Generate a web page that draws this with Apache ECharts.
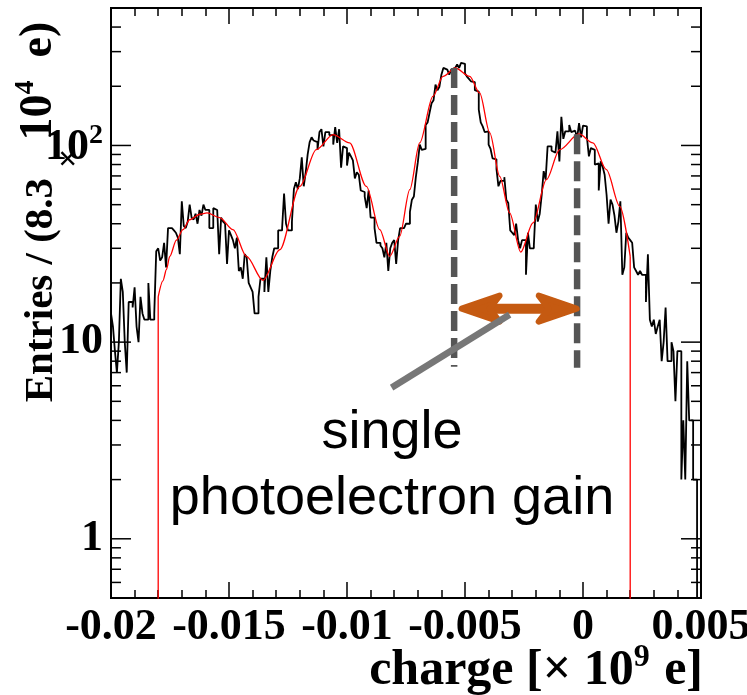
<!DOCTYPE html>
<html>
<head>
<meta charset="utf-8">
<script src="https://cdn.jsdelivr.net/npm/echarts@6/dist/echarts.min.js"></script>
<style>
  html, body { margin: 0; padding: 0; background: #ffffff; }
  #chart { width: 747px; height: 695px; }
</style>
</head>
<body>
<div id="chart"></div>
<script>
// ---- histogram: charge spectrum, 300 bins from -0.02 to 0.005 (x 10^9 e) ----
const xMin = -0.02;
const xMax = 0.005;
const binCount = 300;
const counts = [
  14, 12, 9, 7, 10, 21, 18, 10, 7, 16,
  16, 15, 19, 12, 10, 17, 14, 13, 13, 20,
  13, 13, 14, 29, 30, 26, 27, 32, 24, 38,
  38, 38, 37, 36, 34, 28, 52, 39, 38, 41,
  50, 43, 42, 45, 40, 47, 44, 50, 47, 47,
  38, 38, 48, 47, 46, 28, 43, 41, 40, 25,
  37, 35, 33, 30, 34, 23, 24, 21, 28, 27,
  20, 19, 18, 14, 14, 17, 21, 21, 18, 27,
  18, 23, 27, 30, 30, 37, 37, 38, 57, 40,
  37, 37, 41, 60, 65, 60, 68, 87, 62, 73,
  90, 104, 110, 106, 104, 95, 117, 121, 99, 117,
  117, 113, 113, 101, 124, 103, 121, 77, 99, 97,
  79, 92, 88, 84, 68, 73, 71, 59, 58, 55,
  48, 59, 43, 43, 38, 32, 32, 31, 30, 27,
  32, 23, 30, 32, 33, 25, 33, 38, 38, 38,
  40, 40, 46, 53, 55, 69, 82, 101, 95, 96,
  127, 131, 147, 164, 170, 204, 191, 199, 229, 248,
  243, 243, 229, 243, 248, 250, 258, 248, 263, 260,
  232, 224, 218, 212, 210, 191, 188, 152, 131, 125,
  117, 118, 101, 96, 86, 85, 76, 62, 66, 66,
  69, 53, 51, 37, 36, 35, 40, 33, 30, 33,
  33, 22, 36, 30, 30, 31, 50, 41, 45, 56,
  74, 67, 99, 99, 94, 92, 92, 118, 83, 140,
  108, 118, 118, 127, 117, 119, 119, 109, 130, 110,
  126, 125, 110, 88, 97, 95, 80, 81, 59, 83,
  78, 71, 56, 40, 53, 50, 44, 36, 41, 52,
  22, 24, 36, 34, 33, 32, 24, 23, 22, 23,
  22, 22, 16, 28, 13, 12, 13, 11, 12, 13,
  8, 10, 15, 8, 8, 10, 9, 5, 9, 9,
  2, 4, 2, 8, 4, 4, 2, 2, 0, 0
];

// ---- multi-peak fit, sampled over its range [-0.018, 0.002] ----
const fitX = [
  -0.018, -0.0178, -0.01765, -0.01751, -0.01723, -0.01695, -0.01667, -0.01624, -0.01593, -0.0154,
  -0.01483, -0.01426, -0.01356, -0.01285, -0.0120, -0.0113, -0.01059, -0.00989, -0.00918, -0.00861,
  -0.00819, -0.00777, -0.00734, -0.00692, -0.00636, -0.00593, -0.00541, -0.0048, -0.00438, -0.00395,
  -0.00353, -0.00311, -0.00264, -0.00212, -0.00155, -0.00099, -0.00017, 0.00042, 0.00099, 0.00156,
  0.002
];
const fitY = [
  17.0, 20.5, 23.4, 27.3, 33.0, 37.3, 41.9, 44.7, 45.4, 43.0,
  37.3, 27.3, 20.6, 29.5, 61.9, 95.2, 113.5, 103, 61.9, 37.3,
  27.3, 34.5, 59.6, 103, 177.7, 224.5, 247.7, 224.5, 184.9, 115.8,
  69.7, 45.4, 28.7, 40.4, 67, 95.2, 114.4, 103, 75.3, 49,
  27.3
];

// ---- annotation: gain = distance between neighbouring photoelectron peaks ----
const peakX = [-0.00546, -0.00025];
const peakTop = [248, 114];
const peakBottom = [7.5, 7.4];
const arrowFrom = -0.00527;
const arrowTo = -0.00014;
const arrowLevel = 14.8;
const pointerX = [-0.00811, -0.00311];
const pointerY = [5.87, 13.8];

// ---- axes ----
const yMin = 0.5;
const yMax = 500;
const xInterval = 0.005;
const xTickLabels = ['-0.02', '-0.015', '-0.01', '-0.005', '0', '0.005'];
const yMajorTicks = [1, 10, 100];
const yTickLabels = ['{n|1}', '{n|10}', '{n|10}{sup|2}'];
const yMinorTicks = [0.6, 0.7, 0.8, 0.9, 2, 3, 4, 5, 6, 7, 8, 9,
  20, 30, 40, 50, 60, 70, 80, 90, 200, 300, 400];

const serif = '"Liberation Serif", "Times New Roman", serif';
const sans = '"Liberation Sans", Arial, sans-serif';
const floorVal = 0.05; // empty bins sit below the visible range of the log axis

const binW = (xMax - xMin) / binCount;
const histData = counts.map((c, i) => [xMin + i * binW, Math.max(c, floorVal)]);
histData.push([xMax, Math.max(counts[binCount - 1], floorVal)]);

const fitData = fitX.map((x, i) => [x, fitY[i]]);
const last = fitX.length - 1;

const chart = echarts.init(document.getElementById('chart'), null, { renderer: 'canvas' });

const tickLine = { color: '#000', width: 1.5 };
const xAxisBase = {
  type: 'value', min: xMin, max: xMax, interval: xInterval,
  axisLine: { show: false }, splitLine: { show: false },
  axisTick: { show: true, inside: true, length: 16, lineStyle: tickLine },
  minorTick: { show: true, splitNumber: 5, length: 8, lineStyle: tickLine },
  minorSplitLine: { show: false }
};
const yAxisBase = {
  type: 'log', logBase: 10, min: yMin, max: yMax,
  axisLine: { show: false }, splitLine: { show: false },
  axisTick: { show: false },
  minorTick: { show: false }
};

function yLabel(v) {
  for (let i = 0; i < yMajorTicks.length; i++) {
    if (Math.abs(Math.log10(v) - Math.log10(yMajorTicks[i])) < 1e-6) return yTickLabels[i];
  }
  return '';
}

// ticks on both vertical frame sides of the log axis
function yTickSeries(values, len) {
  return {
    type: 'custom', xAxisIndex: 0, yAxisIndex: 0, silent: true, clip: false, z: 1,
    data: values.map(v => [xMin, v]),
    renderItem: (params, api) => {
      const v = api.value(1);
      const l = api.coord([xMin, v]);
      const r = api.coord([xMax, v]);
      return {
        type: 'group',
        children: [
          { type: 'line', shape: { x1: l[0], y1: l[1], x2: l[0] + len, y2: l[1] },
            style: { stroke: '#000', lineWidth: 1.5 } },
          { type: 'line', shape: { x1: r[0] - len, y1: r[1], x2: r[0], y2: r[1] },
            style: { stroke: '#000', lineWidth: 1.5 } }
        ]
      };
    }
  };
}

const titleFont = { fontFamily: serif, fontWeight: 'bold', fill: '#000', color: '#000', verticalAlign: 'bottom' };

const option = {
  animation: false,
  backgroundColor: '#ffffff',
  grid: {
    left: 111, right: 46, top: 8, bottom: 97,
    show: true, borderColor: '#000', borderWidth: 2, backgroundColor: 'transparent',
    containLabel: false, outerBoundsMode: 'none'
  },
  xAxis: [
    Object.assign({}, xAxisBase, {
      position: 'bottom',
      axisLabel: {
        show: true, margin: 8, color: '#000',
        fontFamily: serif, fontWeight: 'bold', fontSize: 44,
        formatter: (v) => xTickLabels[Math.round((v - xMin) / xInterval)] || ''
      }
    }),
    Object.assign({}, xAxisBase, { position: 'top', axisLabel: { show: false } })
  ],
  yAxis: [
    Object.assign({}, yAxisBase, {
      position: 'left',
      axisLabel: {
        show: true, margin: 8, color: '#000', showMinLabel: false, showMaxLabel: false,
        formatter: yLabel,
        rich: {
          n: { fontFamily: serif, fontWeight: 'bold', fontSize: 44, color: '#000', verticalAlign: 'bottom' },
          sup: { fontFamily: serif, fontWeight: 'bold', fontSize: 28, color: '#000',
                 verticalAlign: 'bottom', padding: [0, 0, 20, 0] }
        }
      }
    }),
    Object.assign({}, yAxisBase, { position: 'right', axisLabel: { show: false } })
  ],
  series: [
    yTickSeries(yMajorTicks, 20),
    yTickSeries(yMinorTicks, 10),
    {
      name: 'data', type: 'line', step: 'end', data: histData,
      showSymbol: false, symbol: 'none', clip: true, sampling: null, z: 2,
      lineStyle: { color: '#000', width: 1.8 }
    },
    {
      name: 'fit', type: 'line', data: fitData, smooth: 0.3, smoothMonotone: 'x',
      showSymbol: false, symbol: 'none', clip: true, z: 3,
      lineStyle: { color: '#ff0000', width: 1.3 }
    },
    {
      type: 'line', data: [[fitX[0], floorVal], [fitX[0], fitY[0]]],
      showSymbol: false, symbol: 'none', clip: true, z: 3,
      lineStyle: { color: '#ff0000', width: 1.3 }
    },
    {
      type: 'line', data: [[fitX[last], fitY[last]], [fitX[last], floorVal]],
      showSymbol: false, symbol: 'none', clip: true, z: 3,
      lineStyle: { color: '#ff0000', width: 1.3 }
    },
    ...peakX.map((px, i) => ({
      type: 'line', data: [[px, peakTop[i]], [px, peakBottom[i]]],
      showSymbol: false, symbol: 'none', clip: true, z: 4,
      lineStyle: { color: '#555555', width: 6.5, type: [20, 7], cap: 'butt' }
    })),
    {
      // double-headed arrow between the two peaks
      type: 'custom', silent: true, clip: false, z: 5,
      data: [[arrowFrom, arrowTo, arrowLevel]],
      encode: { x: [0, 1], y: 2 },
      renderItem: (params, api) => {
        const a = api.coord([api.value(0), api.value(2)]);
        const b = api.coord([api.value(1), api.value(2)]);
        const y = a[1];
        const L = 41, H = 13, N = 31;
        const col = '#c55a11';
        const head = { fill: col, stroke: col, lineWidth: 6, lineJoin: 'round' };
        return {
          type: 'group',
          children: [
            { type: 'line', shape: { x1: a[0] + N, y1: y, x2: b[0] - N, y2: y },
              style: { stroke: col, lineWidth: 10 } },
            { type: 'polygon', shape: { points: [[a[0] + 3, y], [a[0] + L, y - H], [a[0] + N, y], [a[0] + L, y + H]] },
              style: head },
            { type: 'polygon', shape: { points: [[b[0] - 3, y], [b[0] - L, y - H], [b[0] - N, y], [b[0] - L, y + H]] },
              style: head }
          ]
        };
      }
    },
    {
      type: 'line', data: pointerX.map((x, i) => [x, pointerY[i]]),
      showSymbol: false, symbol: 'none', clip: true, z: 6,
      lineStyle: { color: '#777777', width: 6.5, cap: 'butt' }
    }
  ],
  graphic: [
    {
      type: 'text', x: 392, y: 433, z: 10,
      style: { text: 'single', font: '54px ' + sans, fill: '#000',
               align: 'center', verticalAlign: 'middle', textAlign: 'center', textVerticalAlign: 'middle' }
    },
    {
      type: 'text', x: 392, y: 499, z: 10,
      style: { text: 'photoelectron gain', font: '54px ' + sans, fill: '#000',
               align: 'center', verticalAlign: 'middle', textAlign: 'center', textVerticalAlign: 'middle' }
    },
    {
      type: 'text', x: 703, y: 696, z: 10,
      style: {
        text: '{n|charge [× 10}{sup|9}{n| e]}',
        align: 'right', verticalAlign: 'bottom', textAlign: 'right', textVerticalAlign: 'bottom',
        rich: {
          n: Object.assign({ fontSize: 50, lineHeight: 50 }, titleFont),
          sup: Object.assign({ fontSize: 32, lineHeight: 32, padding: [0, 2, 22, 0] }, titleFont)
        }
      }
    },
    {
      type: 'text', x: 64, y: 212, rotation: Math.PI / 2, z: 10,
      style: {
        text: '{a|Entries / (8.3}{x|×}{b|10}{sup|4}{b|  e)}',
        align: 'center', verticalAlign: 'middle', textAlign: 'center', textVerticalAlign: 'middle',
        rich: {
          a: Object.assign({ fontSize: 41, lineHeight: 41, padding: [0, 0, 25, 0] }, titleFont),
          x: Object.assign({ fontSize: 34, lineHeight: 34, padding: [0, 8, 0, 10] }, titleFont),
          b: Object.assign({ fontSize: 46, lineHeight: 46, padding: [0, 0, 25, 0] }, titleFont),
          sup: Object.assign({ fontSize: 28, lineHeight: 28, padding: [0, 0, 47, 0] }, titleFont)
        }
      }
    }
  ]
};

chart.setOption(option);
</script>
</body>
</html>
